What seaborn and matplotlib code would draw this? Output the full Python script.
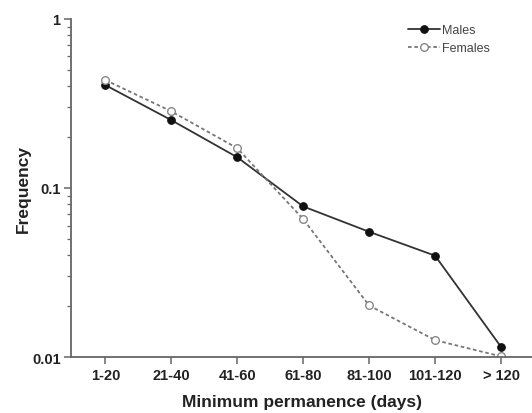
import numpy as np
import pandas as pd
import matplotlib
matplotlib.use("Agg")
import matplotlib.pyplot as plt
import seaborn as sns
from matplotlib.ticker import LogLocator, NullFormatter, FixedLocator, FixedFormatter

categories = ["1-20", "21-40", "41-60", "61-80", "81-100", "101-120", "> 120"]
males = [0.406, 0.252, 0.152, 0.0778, 0.0551, 0.0398, 0.0115]
females = [0.435, 0.284, 0.172, 0.0655, 0.0202, 0.0126, 0.0101]

sns.set_theme(style="ticks")
plt.rcParams["font.family"] = ["Liberation Sans", "DejaVu Sans"]

df = pd.DataFrame({
    "period": categories * 2,
    "freq": males + females,
    "sex": ["Males"] * len(males) + ["Females"] * len(females),
})

fig = plt.figure(figsize=(5.32, 4.14), dpi=100)
ax = fig.add_axes([0.1335, 0.135, 0.8665, 0.817])

sns.lineplot(data=df[df.sex == "Males"], x="period", y="freq", ax=ax,
             color="#333333", lw=1.3, marker="o", markersize=5.5,
             markerfacecolor="#111111", markeredgecolor="#111111",
             label="Males", sort=False)
sns.lineplot(data=df[df.sex == "Females"], x="period", y="freq", ax=ax,
             color="#777777", lw=1.3, linestyle=(0, (2, 1.5)), marker="o",
             markersize=5.5, markerfacecolor="white", markeredgecolor="#888888",
             markeredgewidth=1.0, label="Females", sort=False)

ax.set_yscale("log")
ax.set_ylim(0.01, 1)
ax.set_xlim(-0.52, 6.47)
ax.yaxis.set_major_locator(FixedLocator([0.01, 0.1, 1]))
ax.yaxis.set_major_formatter(FixedFormatter(["0.01", "0.1", "1"]))
ax.yaxis.set_minor_locator(LogLocator(base=10, subs=np.arange(2, 10)))
ax.yaxis.set_minor_formatter(NullFormatter())

for s in ["top", "right"]:
    ax.spines[s].set_visible(False)
for s in ["left", "bottom"]:
    ax.spines[s].set_color("#666666")
    ax.spines[s].set_linewidth(1.3)

ax.tick_params(axis="both", which="major", direction="out", length=5,
               width=1.1, color="#666666", labelsize=10.5, labelcolor="#222222",
               pad=2.5)
ax.tick_params(axis="y", which="minor", direction="out", length=3,
               width=0.9, color="#666666")
for lab in ax.get_xticklabels() + ax.get_yticklabels():
    lab.set_fontweight("bold")

ax.set_xlabel("Minimum permanence (days)", fontsize=12.5, fontweight="bold",
              color="#222222", labelpad=9)
ax.set_ylabel("Frequency", fontsize=12.5, fontweight="bold", color="#222222",
              labelpad=1)

leg = ax.legend(loc="upper left", bbox_to_anchor=(0.731, 0.985), frameon=False,
                fontsize=9, handlelength=2.6, handletextpad=0.15,
                labelspacing=0.5, borderaxespad=0, borderpad=0)
for t in leg.get_texts():
    t.set_color("#444444")

fig.savefig("out.png", dpi=100, facecolor="white")
